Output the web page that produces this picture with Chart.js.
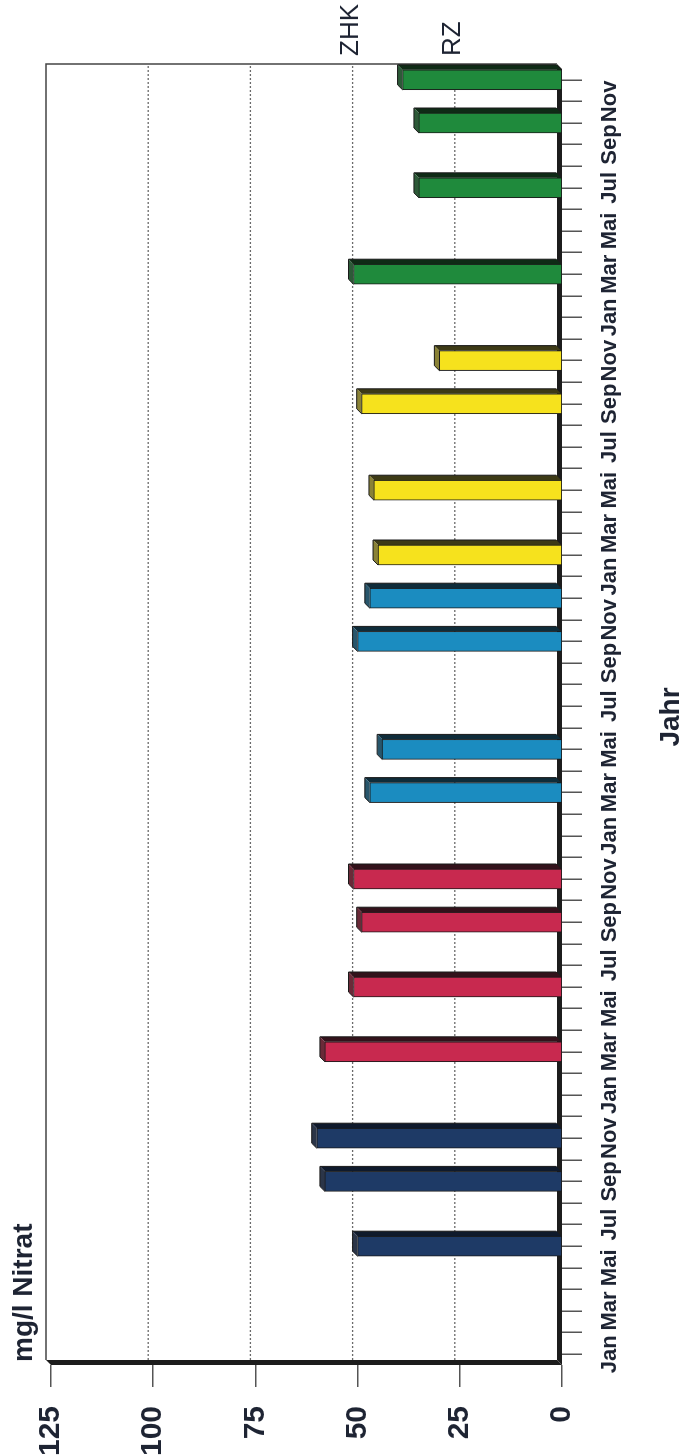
<!DOCTYPE html>
<html lang="de">
<head>
<meta charset="utf-8">
<title>mg/l Nitrat</title>
<script src="https://cdn.jsdelivr.net/npm/chart.js@4.4.1/dist/chart.umd.min.js"></script>
<style>
    html, body { margin: 0; padding: 0; background: #fff; width: 688px; height: 1456px; overflow: hidden; }
    /* chart is drawn landscape and turned on its side like the scan */
    #frame { position: absolute; left: 0; top: 0; width: 1456px; height: 688px;
             transform-origin: 0 0; transform: translateY(1456px) rotate(-90deg); }
</style>
</head>
<body>
<div id="frame"><canvas id="nitratChart" width="1456" height="688"></canvas></div>
<script>
// Categories: 5 years of months
const months = ['Jan', 'Feb', 'Mar', 'Apr', 'Mai', 'Jun', 'Jul', 'Aug', 'Sep', 'Okt', 'Nov', 'Dez'];
const categories = [...months, ...months, ...months, ...months, ...months];
const shownMonths = ['Jan', 'Mar', 'Mai', 'Jul', 'Sep', 'Nov'];

// mg/l Nitrat per year (null = no sample that month)
const year1 = [null, null, null, null, null, 50, null, null, 58, null, 60, null];
const year2 = [null, null, 58, null, null, 51, null, null, 49, null, 51, null];
const year3 = [null, null, 47, null, 44, null, null, null, null, 50, null, 47];
const year4 = [null, 45, null, null, 46, null, null, null, 49, null, 30, null];
const year5 = [null, null, 51, null, null, null, 35, null, null, 35, null, 39];
const years = [year1, year2, year3, year4, year5];

// Limit lines (ZHK = zulaessige Hoechstkonzentration, RZ = Richtzahl)
const limits = [['ZHK', 50], ['RZ', 25]];
const gridValues = [25, 50, 75, 100];

const yearColors = ['#1e3a66', '#c8294f', '#1b8cc0', '#f6e21d', '#1f8a3c'];
const sideColors = ['#0f1a2c', '#33121b', '#0f2c3a', '#3d3a16', '#0f2b16'];
const topColors = ['#2b3548', '#6a2a38', '#28566c', '#8a8236', '#2d5a38'];

const FONT = "'Liberation Sans Narrow', 'Arial Narrow', 'Liberation Sans', Arial, sans-serif";
const TEXT = '#1e2433';
const DEPTH = 5;

// one dataset per year, placed in its 12 slots
const datasets = years.map((vals, k) => ({
    label: 'Jahr ' + (k + 1),
    data: categories.map((_, i) => (Math.floor(i / 12) === k ? vals[i % 12] : null)),
    backgroundColor: yearColors[k],
    borderColor: '#1a1a1a',
    borderWidth: 1,
    grouped: false,
    barThickness: 20
}));

function poly(ctx, pts) {
    ctx.beginPath();
    ctx.moveTo(pts[0][0], pts[0][1]);
    pts.slice(1).forEach(p => ctx.lineTo(p[0], p[1]));
    ctx.closePath();
    ctx.fill();
}

// 3D look: back wall grid, floor, wall and bar sides
const chart3d = {
    id: 'chart3d',
    beforeDatasetsDraw(chart) {
        const { ctx, chartArea: a, scales: { y } } = chart;
        const d = DEPTH;
        ctx.save();

        // dotted grid on back wall
        ctx.strokeStyle = '#6b6b6b';
        ctx.lineWidth = 1.3;
        ctx.setLineDash([2, 2]);
        gridValues.forEach(v => {
            const py = y.getPixelForValue(v) - d;
            ctx.beginPath();
            ctx.moveTo(a.left + d, py);
            ctx.lineTo(a.right + d, py);
            ctx.stroke();
        });
        ctx.setLineDash([]);

        // thin back frame
        ctx.strokeStyle = '#444';
        ctx.lineWidth = 1.5;
        ctx.beginPath();
        ctx.moveTo(a.left + d, a.top - d);
        ctx.lineTo(a.right + d, a.top - d);
        ctx.lineTo(a.right + d, a.bottom - d);
        ctx.stroke();

        // wall and floor
        ctx.fillStyle = '#1c1c1c';
        poly(ctx, [[a.left, a.top], [a.left + d, a.top - d], [a.left + d, a.bottom - d], [a.left, a.bottom]]);
        poly(ctx, [[a.left, a.bottom], [a.left + d, a.bottom - d], [a.right + d, a.bottom - d], [a.right, a.bottom]]);

        // bar depth faces
        chart.data.datasets.forEach((ds, k) => {
            chart.getDatasetMeta(k).data.forEach((bar, i) => {
                if (ds.data[i] == null) return;
                const { x, y: top, base, width } = bar.getProps(['x', 'y', 'base', 'width'], true);
                const l = x - width / 2;
                const r = x + width / 2;
                ctx.fillStyle = sideColors[k];
                poly(ctx, [[r, top], [r + d, top - d], [r + d, base - d], [r, base]]);
                ctx.fillStyle = topColors[k];
                poly(ctx, [[l, top], [l + d, top - d], [r + d, top - d], [r, top]]);
                ctx.strokeStyle = '#1a1a1a';
                ctx.lineWidth = 1;
                ctx.beginPath();
                ctx.moveTo(l, top);
                ctx.lineTo(l + d, top - d);
                ctx.lineTo(r + d, top - d);
                ctx.lineTo(r + d, base - d);
                ctx.stroke();
            });
        });
        ctx.restore();
    },
    afterDraw(chart) {
        const { ctx, chartArea: a, scales: { y } } = chart;
        ctx.save();
        ctx.fillStyle = TEXT;

        // limit labels beside the back wall
        ctx.font = `26px ${FONT}`;
        ctx.textAlign = 'left';
        ctx.textBaseline = 'middle';
        limits.forEach(([name, v]) => {
            ctx.fillText(name, a.right + DEPTH + 8, y.getPixelForValue(v) - DEPTH - 2);
        });

        // unit title
        ctx.font = `bold 28px ${FONT}`;
        ctx.textBaseline = 'alphabetic';
        ctx.fillText('mg/l Nitrat', a.left + 3, a.top - 19);
        ctx.restore();
    }
};

const ctx = document.getElementById('nitratChart').getContext('2d');
const nitratChart = new Chart(ctx, {
    type: 'bar',
    data: { labels: categories, datasets: datasets },
    options: {
        responsive: false,
        animation: false,
        devicePixelRatio: 1,
        layout: { padding: { left: 0, right: 69, top: 51, bottom: 0 } },
        plugins: {
            legend: { display: false },
            tooltip: { enabled: false }
        },
        scales: {
            x: {
                offset: true,
                border: { display: false },
                grid: { offset: false, drawOnChartArea: false, tickLength: 20, color: '#555', lineWidth: 1.5 },
                ticks: {
                    autoSkip: false,
                    maxRotation: 0,
                    minRotation: 0,
                    padding: 15,
                    color: TEXT,
                    font: { family: FONT, size: 22, weight: 'bold' },
                    callback: function(value, index) {
                        const m = categories[index];
                        return shownMonths.includes(m) ? m : '';
                    }
                },
                title: {
                    display: true,
                    text: 'Jahr',
                    color: TEXT,
                    font: { family: FONT, size: 28, weight: 'bold' },
                    padding: { top: 0, bottom: 0 }
                },
                afterFit: scale => { scale.height = 126; }
            },
            y: {
                min: 0,
                max: 125,
                border: { display: false },
                grid: { drawOnChartArea: false, tickLength: 22, color: '#555', lineWidth: 1.5 },
                ticks: {
                    stepSize: 25,
                    padding: 19,
                    color: TEXT,
                    font: { family: FONT, size: 30, weight: 'bold' }
                },
                afterFit: scale => { scale.width = 91; }
            }
        }
    },
    plugins: [chart3d]
});
</script>
</body>
</html>
